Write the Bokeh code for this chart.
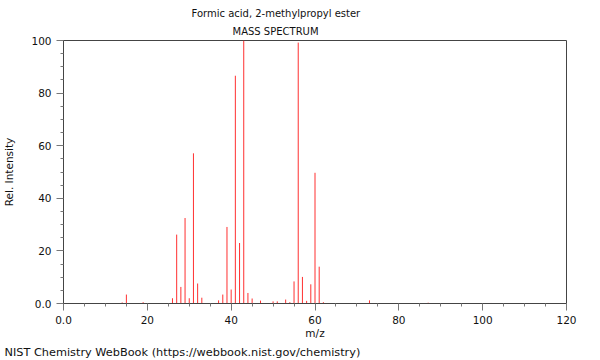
from bokeh.plotting import figure
from bokeh.models import FixedTicker, Title, ColumnDataSource, Range1d
from bokeh.embed import file_html
from bokeh.resources import INLINE

# m/z values and relative intensities
mz = [14, 15, 19, 26, 27, 28, 29, 30, 31, 32, 33, 37, 38, 39, 40, 41, 42, 43,
      44, 45, 47, 50, 51, 53, 54, 55, 56, 57, 58, 59, 60, 61, 62, 73, 87, 102]
intensity = [0.4, 3.4, 0.5, 2.0, 26.2, 6.3, 32.5, 2.0, 57.1, 7.6, 2.2, 1.2, 3.4, 29.1,
             5.3, 86.6, 23.0, 100.0, 4.0, 1.9, 1.1, 0.8, 0.8, 1.5, 0.5, 8.4, 99.2, 10.1,
             1.0, 7.3, 49.7, 14.0, 0.5, 1.2, 0.3, 0.2]

x_ticks = [0, 20, 40, 60, 80, 100, 120]
y_ticks = [0, 20, 40, 60, 80, 100]
title_line1 = "Formic acid, 2-methylpropyl ester"
title_line2 = "MASS SPECTRUM"
x_label = "m/z"
y_label = "Rel. Intensity"
footer = "NIST Chemistry WebBook (https://webbook.nist.gov/chemistry)"

FONT = "DejaVu Sans"

p = figure(width=600, height=360, output_backend="svg", toolbar_location=None,
           x_range=Range1d(0, 120), y_range=Range1d(0, 100),
           min_border_left=62, min_border_right=34, min_border_top=40, min_border_bottom=56)
p.outline_line_color = "#444444"
p.outline_line_width = 1
p.grid.visible = False
p.background_fill_color = "white"
p.border_fill_color = "white"

src = ColumnDataSource(dict(x=mz, y0=[0] * len(mz), y1=intensity))
p.segment(x0="x", y0="y0", x1="x", y1="y1", source=src, line_color="#ff3030", line_width=1)

minor_x = [v for v in range(0, 121, 5) if v % 20 != 0]
minor_y = [v for v in range(0, 101, 5) if v % 20 != 0]
p.xaxis.ticker = FixedTicker(ticks=x_ticks, minor_ticks=minor_x)
p.yaxis.ticker = FixedTicker(ticks=y_ticks, minor_ticks=minor_y)
p.xaxis.major_label_overrides = {0: "0.0"}
p.yaxis.major_label_overrides = {0: "0.0"}
for ax in (p.xaxis, p.yaxis):
    ax.axis_line_color = "#444444"
    ax.major_tick_line_color = "#777777"
    ax.minor_tick_line_color = "#777777"
    ax.major_tick_in = 0
    ax.major_tick_out = 7
    ax.minor_tick_in = 0
    ax.minor_tick_out = 3
    ax.major_label_text_font = FONT
    ax.major_label_text_font_size = "10.5px"
    ax.major_label_text_color = "#111111"
    ax.axis_label_text_font = FONT
    ax.axis_label_text_font_size = "10.5px"
    ax.axis_label_text_font_style = "normal"
    ax.axis_label_text_color = "#111111"
p.xaxis.axis_label = x_label
p.yaxis.axis_label = y_label
p.xaxis.major_label_standoff = 5
p.xaxis.axis_label_standoff = 0
p.yaxis.major_label_standoff = 5
p.yaxis.axis_label_standoff = 13

p.title.text = title_line1
p.title.align = "left"
p.title.offset = 128
p.title.text_font = FONT
p.title.text_font_size = "10px"
p.title.text_font_style = "normal"
p.title.text_color = "#111111"
p.title.standoff = 3

sub = Title(text=title_line2, align="left", offset=169, text_font=FONT, text_font_size="10px",
            text_font_style="normal", text_color="#111111", standoff=7)
p.add_layout(sub, "above")

foot = Title(text=footer, align="left", offset=-59, text_font=FONT, text_font_size="11.3px",
             text_font_style="normal", text_color="#111111", standoff=4)
p.add_layout(foot, "below")

open("out.html", "w").write(file_html(p, INLINE))
